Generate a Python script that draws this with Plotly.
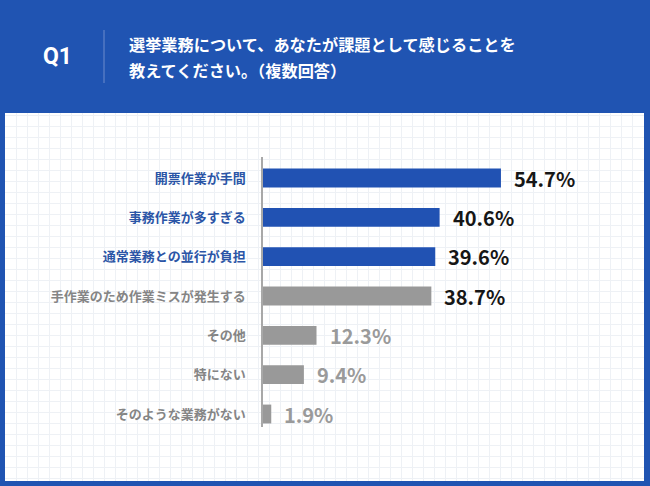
import plotly.graph_objects as go

# ---- data ----
categories = [
    "開票作業が手間",
    "事務作業が多すぎる",
    "通常業務との並行が負担",
    "手作業のため作業ミスが発生する",
    "その他",
    "特にない",
    "そのような業務がない",
]
values = [54.7, 40.6, 39.6, 38.7, 12.3, 9.4, 1.9]
highlight = [True, True, True, False, False, False, False]
value_emphasis = [True, True, True, True, False, False, False]

question_no = "Q1"
title_lines = ["選挙業務について、あなたが課題として感じることを", "教えてください。（複数回答）"]

# ---- styles ----
W, H = 650, 486
BLUE = "#2054b2"
BAR_BLUE = "#2152b3"
BAR_GRAY = "#999999"
LABEL_BLUE = "#2b55a6"
LABEL_GRAY = "#858585"
VAL_DARK = "#161616"
VAL_GRAY = "#9a9a9a"
FONT = "Noto Sans CJK JP"

def px(x):
    return x / W

def py(y):
    return 1 - y / H

bar_colors = [BAR_BLUE if h else BAR_GRAY for h in highlight]
tick_text = [
    f"<span style='color:{LABEL_BLUE if h else LABEL_GRAY}'><b>{c}</b></span>"
    for c, h in zip(categories, highlight)
]

fig = go.Figure()

# grid subplot (x/y) drawn first so bars sit on top
fig.add_trace(go.Scatter(x=[None], y=[None], xaxis="x", yaxis="y",
                         showlegend=False, hoverinfo="skip"))

fig.add_trace(go.Bar(
    x=values, y=categories, orientation="h",
    marker=dict(color=bar_colors, line=dict(width=0)),
    width=0.48, xaxis="x2", yaxis="y2", showlegend=False,
    hoverinfo="skip",
))

annotations = []
for c, v, e in zip(categories, values, value_emphasis):
    annotations.append(dict(
        x=v, y=c, xref="x2", yref="y2", xanchor="left", yanchor="middle",
        xshift=11, showarrow=False, text=f"<b>{v:.1f}%</b>",
        font=dict(family=FONT, size=20, color=VAL_DARK if e else VAL_GRAY),
    ))

# header texts
annotations.append(dict(
    x=px(57), y=py(57), xref="paper", yref="paper", xanchor="center",
    yanchor="middle", showarrow=False, text=f"<b>{question_no}</b>",
    font=dict(family="Roboto", size=23, color="white"),
))
for i, line in enumerate(title_lines):
    annotations.append(dict(
        x=px(127), y=py(44 + 26 * i), xref="paper", yref="paper",
        xanchor="left", yanchor="middle", showarrow=False,
        text=f"<b>{line}</b>",
        font=dict(family=FONT, size=16.2, color="white"),
    ))

shapes = [
    dict(type="rect", xref="paper", yref="paper", x0=px(5), x1=px(644),
         y0=py(481), y1=py(113), fillcolor="white", line=dict(width=0),
         layer="below"),
    dict(type="line", xref="paper", yref="paper", x0=px(104), x1=px(104),
         y0=py(30), y1=py(83), line=dict(color="#6183c8", width=1.2)),
]

fig.update_layout(
    width=W, height=H,
    margin=dict(l=0, r=0, t=0, b=0),
    paper_bgcolor=BLUE,
    plot_bgcolor="rgba(0,0,0,0)",
    font=dict(family=FONT),
    shapes=shapes,
    annotations=annotations,
    xaxis=dict(domain=[px(5), px(644)], range=[0, 639], dtick=11, tick0=0,
               showgrid=True, gridcolor="#eef1f5", gridwidth=1,
               showticklabels=False, zeroline=False, showline=False,
               fixedrange=True),
    yaxis=dict(domain=[py(481), py(113)], range=[0, 368], dtick=11, tick0=3,
               showgrid=True, gridcolor="#eef1f5", gridwidth=1,
               showticklabels=False, zeroline=False, showline=False,
               fixedrange=True),
    xaxis2=dict(domain=[px(263), px(611)], range=[0, 80], anchor="y2",
                visible=False, fixedrange=True),
    yaxis2=dict(domain=[py(427), py(157)], anchor="x2", type="category",
                categoryorder="array", categoryarray=categories,
                range=[6.33, -0.534], autorange=False,
                tickmode="array", tickvals=categories, ticktext=tick_text,
                tickfont=dict(family=FONT, size=13),
                ticks="", ticklabelstandoff=13,
                showline=True, linecolor="#a8a8a8", linewidth=1.5,
                showgrid=False, zeroline=False, fixedrange=True),
    bargap=0.5,
)

fig.write_html(
    "out.html",
    config={"displayModeBar": False},
    post_script="document.body.style.margin='0';document.body.style.overflow='hidden';",
)
